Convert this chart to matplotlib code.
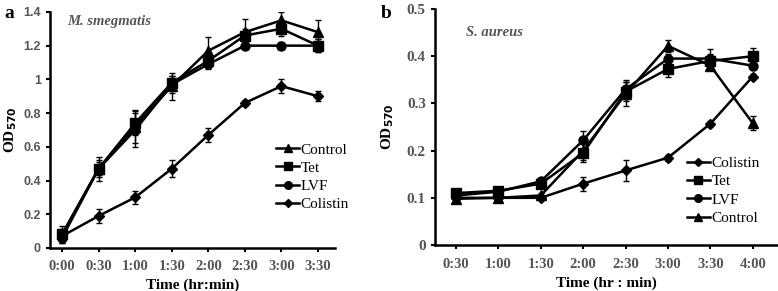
import numpy as np
import matplotlib
matplotlib.use("Agg")
import matplotlib.pyplot as plt
from matplotlib.lines import Line2D

plt.rcParams['font.family'] = ['Liberation Serif', 'DejaVu Serif']

# panel a: M. smegmatis
a_ticks = ['0:00', '0:30', '1:00', '1:30', '2:00', '2:30', '3:00', '3:30']
a_control = [0.08, 0.47, 0.72, 0.96, 1.17, 1.28, 1.35, 1.28]
a_control_err = [0.05, 0.07, 0.10, 0.08, 0.08, 0.08, 0.05, 0.07]
a_tet = [0.08, 0.47, 0.74, 0.98, 1.11, 1.26, 1.30, 1.20]
a_tet_err = [0.03, 0.05, 0.07, 0.04, 0.03, 0.04, 0.04, 0.04]
a_lvf = [0.06, 0.47, 0.70, 0.97, 1.09, 1.20, 1.20, 1.20]
a_lvf_err = [0.03, 0.04, 0.10, 0.05, 0.03, 0.02, 0.02, 0.04]
a_col = [0.07, 0.19, 0.30, 0.47, 0.67, 0.86, 0.96, 0.90]
a_col_err = [0.03, 0.04, 0.04, 0.05, 0.04, 0.02, 0.04, 0.03]

# panel b: S. aureus
b_ticks = ['0:30', '1:00', '1:30', '2:00', '2:30', '3:00', '3:30', '4:00']
b_col = [0.100, 0.100, 0.100, 0.130, 0.158, 0.185, 0.257, 0.357]
b_col_err = [0.005, 0.005, 0.005, 0.015, 0.022, 0.006, 0.006, 0.006]
b_tet = [0.110, 0.115, 0.130, 0.195, 0.325, 0.373, 0.390, 0.400]
b_tet_err = [0.005, 0.005, 0.005, 0.020, 0.020, 0.018, 0.015, 0.018]
b_lvf = [0.105, 0.113, 0.135, 0.222, 0.330, 0.395, 0.395, 0.380]
b_lvf_err = [0.005, 0.005, 0.008, 0.020, 0.020, 0.010, 0.020, 0.010]
b_ctrl = [0.098, 0.100, 0.105, 0.200, 0.320, 0.422, 0.380, 0.258]
b_ctrl_err = [0.005, 0.005, 0.005, 0.020, 0.025, 0.012, 0.010, 0.015]

grey = '#555555'
bold = dict(fontweight='bold')
msize = {'^': 7, 's': 6.5, 'o': 6.5, 'D': 5}


def draw(ax, x, y, err, marker):
    ax.errorbar(x, y, yerr=err, color='black', lw=1.8, marker=marker, ms=msize[marker],
                capsize=2, elinewidth=1, capthick=1)


def add_legend(ax, entries, anchor):
    handles = [Line2D([], [], color='black', lw=1.8, marker=m, ms=msize[m] - 1)
               for m, _ in entries]
    ax.legend(handles, [l for _, l in entries], loc='center right',
              bbox_to_anchor=anchor, frameon=False, fontsize=11,
              handlelength=1.5, handletextpad=0.1, labelspacing=0.3,
              borderaxespad=0, borderpad=0)


def style_axis(ax):
    for s in ['top', 'right']:
        ax.spines[s].set_visible(False)
    ax.spines['left'].set_linewidth(1.8)
    ax.spines['bottom'].set_linewidth(1.8)
    ax.tick_params(axis='x', direction='out', length=3, width=1.5, colors='black',
                   labelcolor=grey, labelsize=10.5, pad=6)
    ax.tick_params(axis='y', direction='out', length=3, width=1.5, colors='black',
                   labelcolor=grey, labelsize=9)
    for t in ax.get_xticklabels() + ax.get_yticklabels():
        t.set_fontweight('bold')


fig = plt.figure(figsize=(7.78, 2.91), dpi=100)

# ---- panel a
ax1 = fig.add_axes([0.0643, 0.148, 0.366, 0.811])
x = np.arange(len(a_ticks))
draw(ax1, x, a_control, a_control_err, '^')
draw(ax1, x, a_tet, a_tet_err, 's')
draw(ax1, x, a_lvf, a_lvf_err, 'o')
draw(ax1, x, a_col, a_col_err, 'D')
ax1.set_xlim(-0.33, 7.46)
ax1.set_ylim(0, 1.4)
ax1.set_yticks([0, 0.2, 0.4, 0.6, 0.8, 1.0, 1.2, 1.4])
ax1.set_yticklabels(['0', '0.2', '0.4', '0.6', '0.8', '1', '1.2', '1.4'],
                    family=['Liberation Sans', 'DejaVu Sans'])
ax1.set_xticks(x)
ax1.set_xticklabels(a_ticks)
style_axis(ax1)
ax1.set_ylabel('OD$_{\\mathbf{570}}$', fontsize=11, labelpad=3, **bold)
ax1.set_xlabel('Time (hr:min)', fontsize=11, labelpad=4, **bold)
ax1.text(0.06, 0.985, 'M. smegmatis', transform=ax1.transAxes, fontsize=10.5,
         style='italic', color=grey, fontweight='bold', va='top')
add_legend(ax1, [('^', 'Control'), ('s', 'Tet'), ('o', 'LVF'), ('D', 'Colistin')],
           (1.05, 0.30))
fig.text(0.006, 0.955, 'a', fontsize=14, **bold, va='center')

# ---- panel b
ax2 = fig.add_axes([0.559, 0.158, 0.4396, 0.811])
x = np.arange(len(b_ticks))
draw(ax2, x, b_col, b_col_err, 'D')
draw(ax2, x, b_tet, b_tet_err, 's')
draw(ax2, x, b_lvf, b_lvf_err, 'o')
draw(ax2, x, b_ctrl, b_ctrl_err, '^')
ax2.set_xlim(-0.5, 7.57)
ax2.set_ylim(0, 0.5)
ax2.set_yticks([0, 0.1, 0.2, 0.3, 0.4, 0.5])
ax2.set_yticklabels(['0', '0.1', '0.2', '0.3', '0.4', '0.5'])
ax2.set_xticks(x)
ax2.set_xticklabels(b_ticks)
style_axis(ax2)
ax2.tick_params(axis='y', labelsize=11)
for t in ax2.get_yticklabels():
    t.set_fontweight('bold')
ax2.set_ylabel('OD$_{\\mathbf{570}}$', fontsize=11, labelpad=8, **bold)
ax2.set_xlabel('Time (hr : min)', fontsize=11, labelpad=4, **bold)
ax2.text(0.09, 0.93, 'S. aureus', transform=ax2.transAxes, fontsize=10.5,
         style='italic', color=grey, fontweight='bold', va='top')
add_legend(ax2, [('D', 'Colistin'), ('s', 'Tet'), ('o', 'LVF'), ('^', 'Control')],
           (0.95, 0.23))
fig.text(0.49, 0.955, 'b', fontsize=14, **bold, va='center')

fig.savefig('out.png', dpi=100)
